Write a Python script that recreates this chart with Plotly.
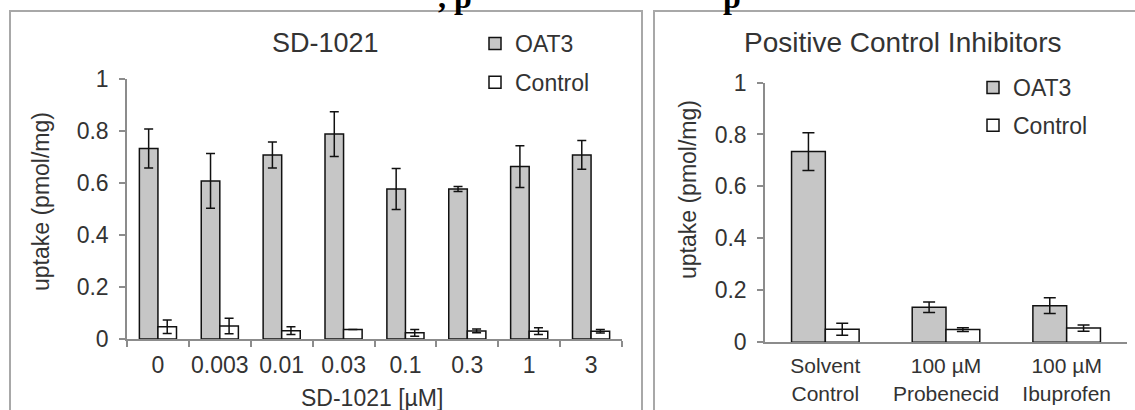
import plotly.graph_objects as go

# ---------------- data ----------------
sd_conc = ["0", "0.003", "0.01", "0.03", "0.1", "0.3", "1", "3"]
sd_oat3 = [0.733, 0.608, 0.708, 0.788, 0.577, 0.577, 0.663, 0.708]
sd_oat3_err = [0.075, 0.105, 0.050, 0.086, 0.079, 0.010, 0.080, 0.055]
sd_ctrl = [0.047, 0.050, 0.032, 0.037, 0.024, 0.031, 0.030, 0.030]
sd_ctrl_err = [0.026, 0.030, 0.015, 0.0, 0.013, 0.007, 0.013, 0.007]

pc_labels = ["Solvent<br>Control", "100 µM<br>Probenecid", "100 µM<br>Ibuprofen"]
pc_oat3 = [0.734, 0.135, 0.141]
pc_oat3_err = [0.073, 0.020, 0.030]
pc_ctrl = [0.050, 0.049, 0.055]
pc_ctrl_err = [0.023, 0.007, 0.012]

ytick_vals = [0, 0.2, 0.4, 0.6, 0.8, 1]
ytick_text = ["0", "0.2", "0.4", "0.6", "0.8", "1"]

# ---------------- layout helpers ----------------
W, H = 1135, 410
def px(x):
    return x / W
def py(y):
    return 1 - y / H

FONT = "Liberation Sans, Arial, sans-serif"
TXT = "#333333"
AX = "#8c8c8c"
OAT3_FILL = "#c6c6c6"

fig = go.Figure()

# left panel bars
fig.add_trace(go.Bar(
    x=sd_conc, y=sd_oat3, name="OAT3", xaxis="x", yaxis="y",
    width=0.30, offset=-0.30,
    marker=dict(color=OAT3_FILL, line=dict(color="#111111", width=1.5)),
    error_y=dict(type="data", array=sd_oat3_err, visible=True,
                 color="#111111", thickness=1.5, width=4.5),
    legend="legend", legendgroup="a",
))
fig.add_trace(go.Bar(
    x=sd_conc, y=sd_ctrl, name="Control", xaxis="x", yaxis="y",
    width=0.30, offset=0.0,
    marker=dict(color="white", line=dict(color="#111111", width=1.5)),
    error_y=dict(type="data", array=sd_ctrl_err, visible=True,
                 color="#111111", thickness=1.5, width=4.5),
    legend="legend", legendgroup="b",
))

# right panel bars
fig.add_trace(go.Bar(
    x=pc_labels, y=pc_oat3, name="OAT3", xaxis="x2", yaxis="y2",
    width=0.28, offset=-0.28,
    marker=dict(color=OAT3_FILL, line=dict(color="#111111", width=1.5)),
    error_y=dict(type="data", array=pc_oat3_err, visible=True,
                 color="#111111", thickness=1.5, width=6),
    legend="legend2", legendgroup="c",
))
fig.add_trace(go.Bar(
    x=pc_labels, y=pc_ctrl, name="Control", xaxis="x2", yaxis="y2",
    width=0.28, offset=0.0,
    marker=dict(color="white", line=dict(color="#111111", width=1.5)),
    error_y=dict(type="data", array=pc_ctrl_err, visible=True,
                 color="#111111", thickness=1.5, width=6),
    legend="legend2", legendgroup="d",
))

yaxis_common = dict(
    range=[0, 1], tickvals=ytick_vals, ticktext=ytick_text,
    showgrid=False, zeroline=False, showline=True, linecolor=AX, linewidth=1.5,
    ticks="outside", ticklen=6, tickwidth=1.5, tickcolor=AX,
    tickfont=dict(family=FONT, size=23, color=TXT),
    ticklabelstandoff=6, fixedrange=True, automargin=False,
)

fig.update_layout(
    width=W, height=H, autosize=False,
    margin=dict(l=0, r=0, t=0, b=0, pad=0, autoexpand=False),
    paper_bgcolor="white", plot_bgcolor="white",
    barmode="overlay",
    showlegend=True,
    xaxis=dict(
        domain=[px(127), px(622)], anchor="y", type="category",
        showgrid=False, showline=True, linecolor=AX, linewidth=1.5,
        ticks="outside", tickson="boundaries", ticklen=6, tickwidth=1.5, tickcolor=AX,
        tickfont=dict(family=FONT, size=23, color=TXT), ticklabelstandoff=5,
        tickangle=0, fixedrange=True, automargin=False,
    ),
    yaxis=dict(domain=[py(339), py(79)], anchor="x", **yaxis_common),
    xaxis2=dict(
        domain=[px(765), px(1127)], anchor="y2", type="category",
        showgrid=False, showline=True, linecolor=AX, linewidth=1.5,
        ticks="", tickfont=dict(family=FONT, size=21, color=TXT),
        ticklabelstandoff=4, tickangle=0, fixedrange=True, automargin=False,
    ),
    yaxis2=dict(domain=[py(342.3), py(82.5)], anchor="x2", **yaxis_common),
    legend=dict(
        x=px(475), y=py(22), xanchor="left", yanchor="top",
        font=dict(family=FONT, size=23, color=TXT),
        bgcolor="rgba(0,0,0,0)", traceorder="grouped", tracegroupgap=6,
        itemclick=False, itemdoubleclick=False,
    ),
    legend2=dict(
        x=px(973), y=py(66), xanchor="left", yanchor="top",
        font=dict(family=FONT, size=23, color=TXT),
        bgcolor="rgba(0,0,0,0)", traceorder="grouped", tracegroupgap=5,
        itemclick=False, itemdoubleclick=False,
    ),
)

annotations = [
    dict(text="SD-1021", x=px(325), y=py(43), font=dict(size=27)),
    dict(text="Positive Control Inhibitors", x=px(902), y=py(43), font=dict(size=28)),
    dict(text="SD-1021 [µM]", x=px(372), y=py(398), font=dict(size=23)),
    dict(text="uptake (pmol/mg)", x=px(41), y=py(202), textangle=-90, font=dict(size=23)),
    dict(text="uptake (pmol/mg)", x=px(688), y=py(190), textangle=-90, font=dict(size=23)),
]
for a in annotations:
    a.update(xref="paper", yref="paper", showarrow=False, xanchor="center", yanchor="middle")
    a["font"] = dict(family=FONT, color=TXT, **a["font"])
    fig.add_annotation(**a)

# clipped fragments of the page heading above the panels (only their lower part shows)
for txt, xc in [(", p", 455), ("p", 732)]:
    fig.add_annotation(text="<b>" + txt + "</b>", x=px(xc), y=py(17), xref="paper", yref="paper",
                       xanchor="center", yanchor="bottom", showarrow=False,
                       font=dict(family="Liberation Serif, Times New Roman, serif", size=32, color="#000000"))

# panel borders
fig.add_shape(type="rect", xref="paper", yref="paper",
              x0=px(10), x1=px(642), y0=py(430), y1=py(11),
              line=dict(color="#a8a8a8", width=2), fillcolor="rgba(0,0,0,0)", layer="below")
fig.add_shape(type="rect", xref="paper", yref="paper",
              x0=px(654), x1=px(1150), y0=py(430), y1=py(11),
              line=dict(color="#a8a8a8", width=2), fillcolor="rgba(0,0,0,0)", layer="below")

fig.write_html("out.html", config={"displayModeBar": False},
               post_script="document.body.style.margin='0';document.body.style.overflow='hidden';")
